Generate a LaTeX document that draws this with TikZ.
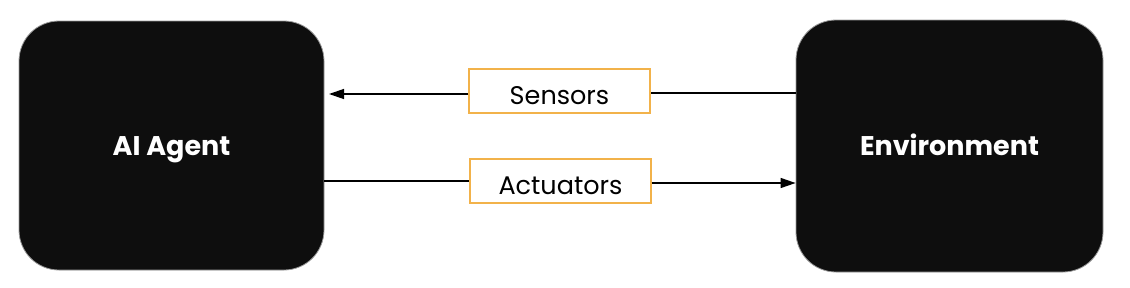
\documentclass[tikz,border=0pt]{standalone}
\usepackage{fontspec}
\setmainfont{Poppins}
\usetikzlibrary{arrows.meta}
\definecolor{boxblack}{HTML}{0E0E0E}
\definecolor{boxedge}{HTML}{9A9A9A}
\definecolor{labelorange}{HTML}{F2B24A}
\tikzset{
  bigbox/.style={draw=boxedge, line width=0.8pt, fill=boxblack, rounded corners=40pt,
    text=white, font=\fontsize{27}{30}\selectfont\bfseries, inner sep=0pt,
    text height=19pt, text depth=0pt},
  lbl/.style={draw=labelorange, line width=1.2pt, fill=white, minimum width=181pt, minimum height=44pt,
    inner sep=0pt, font=\fontsize{25.5}{28}\selectfont, text height=26pt, text depth=0pt},
  conn/.style={line width=1.3pt, draw=black},
  tip/.style={-{Triangle[length=15pt,width=10pt]}}
}
\begin{document}
\begin{tikzpicture}[x=1pt,y=-1pt]
\useasboundingbox (0,0) rectangle (1130,287);
\node[bigbox, minimum width=305pt, minimum height=249pt] (agent) at (171.5,145.5) {AI Agent};
\node[bigbox, minimum width=307pt, minimum height=252pt] (env) at (949.5,146) {Environment};
\node[lbl] (sens) at (559.5,91) {Sensors};
\node[lbl] (act) at (560.5,181) {Actuators};
\draw[conn] (env.west |- 0,93) -- (sens.east |- 0,93);
\draw[conn, tip] (sens.west |- 0,94) -- (329,94) coordinate (sensend);
\draw[conn] (agent.east |- 0,181) -- (act.west |- 0,181);
\draw[conn, tip] (act.east |- 0,183) -- (env.west |- 0,183);
\end{tikzpicture}
\end{document}
